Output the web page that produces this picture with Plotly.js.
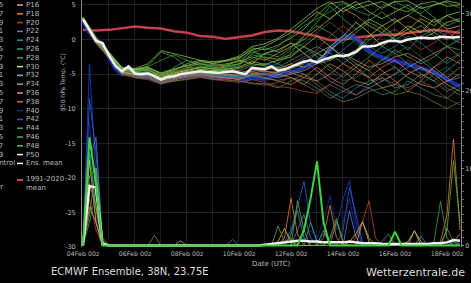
<!DOCTYPE html>
<html><head><meta charset="utf-8">
<script src="https://cdn.plot.ly/plotly-3.0.1.min.js"></script>
<style>html,body{margin:0;padding:0;background:#000;} #chart{width:471px;height:283px;}</style>
</head><body><div id="chart"></div>
<script>
// ---------- DATA ----------
// 850 hPa temperature, 6-hourly from 04Feb 00z to 18Feb 12z
const tempMean = [2.9,1.3,-0.2,-0.5,-2.3,-3.8,-4.6,-3.9,-4.9,-5.0,
 -4.9,-5.3,-5.8,-5.4,-5.3,-5.0,-4.9,-4.8,-4.6,-4.7,
 -4.8,-4.8,-4.7,-4.6,-4.8,-5.0,-4.1,-4.2,-4.3,-3.9,
 -4.5,-4.3,-3.9,-3.6,-3.2,-3.0,-3.3,-2.9,-2.6,-2.3,
 -2.4,-2.2,-1.8,-1.0,-1.0,-0.9,-0.5,-0.2,-0.2,-0.3,
 0.0,0.2,0.3,0.2,0.2,0.4,0.3,0.3,0.4];
const tempControl = [2.7,1.0,-0.1,-0.6,-2.6,-4.2,-5.0,-4.3,-5.3,-5.5,
 -5.4,-5.8,-6.3,-5.9,-5.8,-5.5,-5.4,-5.3,-5.1,-5.3,
 -5.5,-5.6,-5.4,-5.3,-5.6,-5.9,-5.5,-5.6,-5.7,-5.4,
 -5.2,-5.0,-4.7,-4.4,-4.0,-3.5,-3.2,-2.5,-1.6,-0.5,
 0.3,0.6,0.2,-0.8,-1.6,-2.2,-2.6,-2.9,-3.1,-3.3,
 -3.6,-3.9,-4.2,-4.5,-4.7,-5.2,-5.8,-6.3,-6.8];
// 1991-2020 climatology, 12-hourly
const tempClim = [1.4,1.3,1.4,1.6,1.9,1.7,1.6,1.2,1.0,0.5,
 0.4,0.1,0.4,0.6,1.1,1.3,1.2,0.9,0.5,-0.1,
 0.0,0.3,0.5,0.7,0.7,0.9,1.2,1.4,1.2,1.0];
// ensemble members (selection), 12-hourly
const m01 = [3.2,0.2,-2.0,-4.2,-4.5,-3.8,-1.8,-2.5,-4.0,-4.2,-4.5,-4.0,-3.5,-1.5,-2.8,-3.5,-2.0,0.5,2.5,4.8,3.0,1.5,2.8,4.0,2.5,3.5,4.8,3.2,2.0,2.8];
const m02 = [3.0,-0.4,-2.4,-4.8,-5.2,-5.0,-5.5,-4.8,-4.5,-4.0,-4.2,-3.8,-3.0,-3.5,-2.0,-1.5,-0.5,-2.0,-3.5,-1.0,0.5,2.5,1.0,-1.0,0.5,2.0,1.0,3.0,1.5,2.0];
const m03 = [2.8,-0.5,-2.6,-5.0,-5.3,-5.5,-6.2,-5.8,-5.5,-5.0,-5.3,-5.5,-5.8,-5.0,-5.5,-6.0,-6.5,-5.5,-4.0,-5.5,-6.5,-5.0,-3.0,-4.5,-6.0,-7.5,-6.0,-4.0,-5.5,-4.0];
const m04 = [2.9,-0.1,-2.2,-4.5,-4.8,-4.6,-5.6,-5.2,-4.8,-4.5,-4.9,-5.0,-5.2,-4.6,-4.0,-3.5,-4.5,-5.0,-6.0,-7.5,-8.5,-7.0,-6.0,-5.5,-7.0,-6.5,-5.0,-6.0,-7.5,-6.5];
const m05 = [3.1,0.0,-2.1,-4.3,-4.2,-4.0,-5.0,-4.5,-3.5,-3.0,-3.5,-3.2,-2.8,-1.2,-1.5,-0.8,0.2,1.5,3.5,5.2,5.5,4.5,5.0,5.5,4.5,4.0,5.2,5.5,4.8,5.0];
const m06 = [2.7,-0.6,-2.7,-5.1,-5.5,-5.8,-6.4,-6.0,-5.8,-5.5,-5.8,-6.0,-6.2,-5.8,-6.2,-6.8,-7.0,-7.5,-7.8,-6.5,-5.0,-3.5,-4.5,-6.0,-5.0,-3.0,-4.0,-5.5,-7.0,-8.0];
const m07 = [3.0,-0.3,-2.3,-4.7,-5.0,-5.2,-6.0,-5.5,-5.2,-5.0,-5.0,-4.8,-4.5,-4.8,-5.0,-4.5,-3.5,-2.5,-1.5,0.5,2.0,0.5,-1.0,0.5,1.5,0.0,-1.5,-0.5,1.0,0.0];
const m08 = [2.9,-0.2,-2.5,-4.9,-5.0,-4.8,-5.8,-5.4,-5.0,-4.8,-5.1,-5.2,-5.5,-5.0,-4.8,-5.2,-4.0,-3.0,-4.5,-6.0,-7.0,-8.0,-7.0,-6.0,-5.0,-4.0,-3.0,-4.5,-6.0,-5.5];
const m09 = [3.0,-0.3,-2.3,-4.4,-4.6,-4.5,-5.4,-5.0,-4.2,-3.8,-4.0,-4.3,-4.0,-3.0,-2.5,-3.0,-1.5,-0.5,1.0,2.5,1.0,-0.5,-2.0,-3.0,-2.0,-1.0,-2.5,-4.0,-3.0,-2.0];
const m10 = [3.1,0.1,-2.0,-4.2,-4.4,-4.3,-5.2,-4.6,-4.0,-3.5,-3.8,-3.5,-3.2,-2.5,-3.0,-2.0,-1.0,0.0,1.5,3.0,4.5,3.5,2.0,1.0,2.5,3.5,2.5,1.0,0.0,1.5];
const m11 = [2.8,-0.4,-2.5,-4.8,-5.1,-5.3,-6.0,-5.6,-5.3,-5.2,-5.4,-5.5,-5.7,-5.2,-5.0,-5.5,-5.0,-4.5,-3.5,-3.0,-2.0,-3.0,-4.0,-3.5,-2.5,-2.0,-3.0,-2.0,-1.0,-2.5];
const m12 = [3.0,-0.2,-2.2,-4.6,-4.7,-4.2,-5.6,-4.0,-3.0,-3.5,-4.0,-4.2,-3.8,-2.0,-1.2,-1.8,-0.5,-1.0,-2.5,-4.0,-5.5,-4.0,-2.5,-1.0,-2.0,-3.5,-5.0,-6.0,-4.5,-3.0];
const m13 = [2.9,-0.2,-2.4,-4.8,-5.0,-5.0,-5.9,-5.3,-4.9,-4.7,-4.8,-4.6,-4.9,-4.3,-4.6,-4.8,-4.2,-3.5,-2.0,-1.0,-2.5,-4.0,-5.5,-7.0,-6.5,-5.0,-4.0,-5.0,-6.5,-7.5];
const m14 = [3.2,0.3,-1.8,-4.0,-4.2,-3.5,-1.6,-2.0,-2.5,-3.0,-3.2,-3.0,-2.6,-1.5,-1.0,0.0,1.0,2.5,4.0,3.0,4.5,5.5,4.0,3.0,4.0,5.0,3.5,2.5,3.5,4.0];
const m15 = [2.8,-0.5,-2.6,-5.0,-5.4,-5.6,-6.3,-6.0,-5.6,-5.4,-5.7,-5.8,-6.0,-6.3,-6.4,-7.0,-6.0,-5.0,-6.5,-8.0,-9.0,-8.5,-7.5,-7.0,-8.0,-7.5,-8.0,-9.0,-10.0,-9.0];
const m16 = [3.0,-0.1,-2.2,-4.5,-4.7,-4.8,-5.5,-5.1,-4.7,-4.5,-4.6,-4.4,-4.5,-3.8,-3.5,-4.0,-3.0,-2.0,-1.0,-2.0,-3.5,-2.0,0.0,1.0,0.0,-1.5,0.5,1.5,0.5,-0.5];
const m17 = [3.1,0.0,-2.1,-4.4,-4.6,-4.4,-5.3,-4.9,-4.5,-4.0,-4.3,-4.5,-4.2,-3.5,-3.8,-4.2,-3.5,-4.0,-3.0,-1.5,0.0,1.5,3.0,2.0,0.5,1.5,3.0,2.0,3.5,2.5];
const m18 = [2.9,-0.3,-2.4,-4.7,-4.9,-5.1,-5.8,-5.4,-5.1,-4.9,-5.0,-5.2,-5.1,-4.6,-4.4,-4.0,-4.8,-5.5,-6.0,-5.0,-3.5,-4.5,-5.5,-4.0,-3.0,-4.5,-5.5,-4.0,-2.5,-3.5];
const m19 = [3.0,-0.1,-2.2,-4.5,-4.3,-4.0,-4.8,-4.2,-3.8,-3.5,-3.6,-3.8,-3.5,-2.8,-2.0,-2.5,-1.2,0.5,2.0,1.0,-0.5,1.0,2.5,1.5,0.0,1.0,2.0,0.5,-1.0,0.0];
const m20 = [2.8,-0.4,-2.5,-4.9,-5.2,-5.4,-6.2,-5.7,-5.4,-5.1,-5.2,-5.4,-5.6,-5.3,-5.6,-5.9,-5.5,-6.0,-7.0,-8.5,-7.5,-6.5,-7.0,-8.0,-7.5,-6.0,-7.0,-8.0,-8.5,-7.0];
const m21 = [3.3,0.4,-1.9,-4.1,-4.3,-3.9,-3.0,-2.2,-3.0,-3.8,-4.0,-3.6,-3.0,-1.8,-2.2,-1.0,0.5,2.0,3.0,4.0,5.3,4.2,3.5,4.8,5.5,4.5,3.8,5.0,5.4,4.5];
const m22 = [2.9,-0.2,-2.3,-4.6,-4.9,-4.7,-5.5,-5.0,-4.6,-4.3,-4.5,-4.3,-4.0,-3.2,-3.6,-3.0,-2.5,-1.0,0.5,-1.0,-2.5,-1.5,0.5,2.0,3.0,1.5,0.0,1.0,2.5,3.0];
const m23 = [3.0,-0.3,-2.4,-4.7,-5.0,-5.1,-5.9,-5.5,-5.1,-4.8,-4.9,-5.0,-5.3,-4.9,-4.5,-5.0,-5.5,-6.5,-5.0,-3.5,-4.5,-6.0,-6.5,-5.0,-4.0,-5.5,-6.5,-7.0,-6.0,-5.0];
const m24 = [2.8,-0.5,-2.6,-5.0,-5.2,-5.2,-6.0,-5.6,-5.2,-4.9,-5.1,-5.3,-5.4,-5.0,-5.2,-4.8,-3.8,-2.8,-2.0,-3.0,-1.5,0.0,-1.0,-2.0,-1.0,0.5,-0.5,-2.0,-3.5,-2.0];
const m25 = [3.1,0.1,-2.0,-4.3,-4.5,-4.4,-5.1,-4.7,-4.3,-4.1,-4.2,-4.0,-3.6,-2.2,-2.6,-2.8,-2.2,-1.0,-2.0,-3.0,-2.0,-3.5,-4.5,-3.0,-1.5,-2.5,-3.5,-2.5,-1.0,-1.5];
const m26 = [2.8,-0.5,-2.5,-4.9,-5.3,-5.5,-6.1,-5.7,-5.5,-5.3,-5.5,-5.7,-6.0,-6.4,-6.6,-6.2,-5.5,-6.5,-7.5,-6.5,-7.5,-8.0,-6.5,-5.5,-6.5,-7.0,-6.0,-7.0,-8.5,-9.5];
const m27 = [3.2,0.2,-1.9,-4.1,-4.3,-4.1,-4.9,-4.3,-3.8,-3.2,-3.4,-3.0,-2.4,-1.0,-0.6,0.2,1.5,3.0,4.5,5.5,4.0,5.0,5.6,4.5,5.5,5.6,4.5,5.0,5.6,5.2];
const m28 = [2.9,-0.2,-2.3,-4.6,-4.8,-4.9,-5.7,-5.2,-4.8,-4.6,-4.7,-4.9,-5.0,-4.4,-4.1,-4.5,-5.0,-4.0,-3.0,-4.5,-6.0,-5.5,-4.0,-3.0,-4.0,-5.5,-6.5,-5.0,-4.0,-5.5];

// precipitation (mm, right axis), 6-hourly
const precMean = [0,7.7,7.5,0.2,0,0,0,0,0,0, 0,0.05,0,0,0,0,0,0,0,0, 0,0,0,0,0,0,0,0,0.1,0.2,
 0.3,0.4,0.5,0.6,0.6,0.5,0.5,0.4,0.4,0.4, 0.4,0.5,0.4,0.3,0.3,0.3,0.2,0.2,0.2,0.2, 0.2,0.2,0.2,0.2,0.3,0.3,0.4,0.7,0.6];
const pB1 = [0,23.5,9.0,0,0,0,0,0,0,0, 0,0,0,0,0,0,0,0,0,0, 0,0,0,0,0,0,0,0,0,0, 0,0,0,0.5,1.0,0,0,0,0.8,2.5, 6.0,8.4,3.0,0,0,0,0,0,0,0, 0,0,0,0,0,0,0,0.3,0.5];
const pB2 = [0,19.0,12.0,0.5,0,0,0,0,0,0, 0,0,0,0,0,0,0,0,0,0, 0,0,0,0,0,0,0,0,0,0, 0,0.5,2.0,5.0,8.3,3.0,0.5,1.5,0.5,0, 2.0,7.5,4.0,0.5,0,0,0,0,0,0, 0,0,0,0,0,0,0,0,0];
const pB3 = [0,16.0,4.0,0,0,0,0,0,0,0, 0,0,0,0,0,0,0,0,0,0, 0,0,0,0,0,0,0,0,0,0, 0,0,0,0,1.0,2.0,1.0,3.0,6.5,2.0, 3.0,6.0,2.0,0,0,0,0,0,0,0, 0,0,0,0,0,0,0,0,0];
const pB4 = [0,11.0,14.0,0.5,0,0,0,0,0,0, 0,0,0,0,0,0,0,0,0,0, 0,0,0,0.8,0,0,0,0,0,0, 0,0,0,2.0,4.0,1.0,0,0,0,0, 0,4.5,1.0,0,0,0,0,0,0,0, 0,0,0,0,0,0,0,0,0];
const pTeal = [0,12.0,5.0,0,0,0,0,0,0,0, 0,0,0,0,0,0,0,0,0,0, 0,0,0,0,0,0,0,0,0,0, 0,0,1.5,4.5,1.0,0,0,2.0,0,0, 0,0,0,0,0,0,0,0,0,0, 0,0,1.2,0,0,0,0,0,0];
const pYellow = [0,11.0,3.0,0,0,0,0,0,0,0, 0,0,0,0,0,0,0,0,0,0, 0,0,0,0,0,0,0,0,0,0, 0.5,2.2,0.5,0,0,0,0,0,0,0, 0,0.5,1.5,3.1,0.5,0,0,0,0,0, 0.5,1.9,0,0,0,0,0,0,0];
const pOrange = [0,8.0,5.0,0,0,0,0,0,0,0, 0,0,0,0,0,0,0,0,0,0, 0,0,0,0,0,0,0,0,0,0, 0,1.0,6.1,1.5,0,0,0,1.0,5.2,1.0, 0,0,0,0,0,0,0,0,0,0, 0,0,0,0,0,0.5,4.0,13.8,2.0];
const pRed = [0,6.0,2.0,0,0,0,0,0,0,0, 0,0,0,0,0,0,0,0,0,0, 0,0,0,0,0,0,0,0,0,0, 0,0,0,0,0,0,0,0,0,0, 0,0,1.0,3.0,5.8,1.0,0,0,0,0, 0,0,0,0,0,0,0,0,0];
const pOlive = [0,4.0,10.0,1.0,0,0,0,0,0,0, 0,1.3,0,0,0,0,0,0,0,0, 0,0,0,0,0,0,0,0,0,0, 2.5,0.5,1.0,0,0,0,0,0,0,3.1, 0.5,0,0,0,0,0,0,0,0,0, 0,0,0,0,0,0,2.2,0.5,0];
const pTan = [0,5.0,3.0,0,0,0,0,0,0,0, 0,0,0,0,0,0.6,0,0,0,0, 0,0,0,0,0,0,0,0,0,0, 0,0,0,0,0,0,0,0,0,0, 0,0,0,3.1,1.0,0,0,0,0,0, 0,1.9,0.5,0,0,0,0,0.5,1.5];
const pGreen2 = [0,9.0,10.0,0.5,0,0,0,0,0,0, 0,0,0,0,0,0,0,0,0,0, 0,0,0,0,0,0,0,0,0,0, 0,0,0,5.8,2.0,0,0,0,1.0,3.5, 0.5,0,0,0,0,0,0,0,0,0, 0,0,0,0,0,0,2.0,11.0,3.0];
const pGreen3 = [0,3.0,7.0,0.5,0,0,0,0,0,0, 0,0,0,0,0,0,0,0,0,0, 0,0,0,0,0,0,0,0,0,0, 0,0,0,0,0,3.0,0.5,0,0,0, 0,0,0,0,0,0,0.5,1.5,0,0, 0,0,0,0,0.5,5.7,1.0,0,0.3];
const pGreen1 = [0,14.0,8.0,0,0,0,0,0,0,0, 0,0,0,0,0,0,0,0,0,0, 0,0,0,0,0,0,0,0,0,0, 0,0,0,0,2.0,6.0,10.9,3.0,0,0, 0,0,0,0,0,0,0,0,1.8,0, 0,0,0,0,0,0,0,0,0];

// legend labels / ticks
const legendLeft = ['P15','P17','P19','P21','P23','P25','P27','P29','P31','P33','P35','P37','P39','P41','P43','P45','P47','P49','Control'];
const legendRight = ['P16','P18','P20','P22','P24','P26','P28','P30','P32','P34','P36','P38','P40','P42','P44','P46','P48','P50','Ens. mean'];
const legendRightColors = ['#e0b080','#e08030','#b04030','#6080a0','#3090a0','#30a080','#40a040','#e0e060','#80b0e0','#c09090','#e090a0','#c07040','#203080','#3050c0','#40a060','#50b050','#60c060','#f0f0f0','#ffffff'];
const tempTicks = [-30,-25,-20,-15,-10,-5,0,5];
const tempTickText = ['-30','-25','-20','-15','-10','-5','0','5'];
const precTicks = [0,10,20,30];

// ---------- BUILD ----------
const pad = n => String(n).padStart(2,'0');
const t0 = Date.UTC(2025,1,4,0);
const fmt = ms => { const d = new Date(ms); return d.getUTCFullYear()+'-'+pad(d.getUTCMonth()+1)+'-'+pad(d.getUTCDate())+' '+pad(d.getUTCHours())+':00'; };
const times6 = Array.from({length: tempMean.length}, (_,i) => fmt(t0 + i*6*3600000));
const times12 = Array.from({length: tempClim.length}, (_,i) => fmt(t0 + i*12*3600000));

const members = [m01,m02,m03,m04,m05,m06,m07,m08,m09,m10,m11,m12,m13,m14,m15,m16,m17,m18,m19,m20,m21,m22,m23,m24,m25,m26,m27,m28];
const memberColors = ['#40b040','#d8d040','#e08030','#2a9090','#80c840','#a05030','#c84040','#6090d0','#2a7030','#c8a030','#d08080','#40a070','#c0a070','#90d050','#808030','#40a0a0','#a0c040','#e07050','#50b050','#3a8a70','#3c9c3c','#b8c840','#d89040','#3080a0','#58a848','#905040','#a0d060','#2a6a5a'];

const traces = [];
traces.push({x: times12, y: tempClim, type:'scatter', mode:'lines', line:{color:'#d84852', width:2.5}, opacity:0.9, hoverinfo:'skip'});
traces.push({x: times6, y: tempControl, type:'scatter', mode:'lines', line:{color:'#2434c8', width:4}, opacity:0.85, hoverinfo:'skip'});
members.forEach((m,k) => traces.push({x: times12, y: m, type:'scatter', mode:'lines', line:{color: memberColors[k], width:1}, opacity:0.72, hoverinfo:'skip'}));
traces.push({x: times6, y: tempMean, type:'scatter', mode:'lines', line:{color:'#f0f0f0', width:2.5}, hoverinfo:'skip'});

const precSeries = [[pB1,'#2040d0'],[pB2,'#3060e0'],[pB3,'#1830a0'],[pB4,'#5080e0'],[pTeal,'#30a0a0'],[pYellow,'#d0d040'],[pOrange,'#e08030'],[pRed,'#c04030'],[pOlive,'#909030'],[pTan,'#c0a070'],[pGreen2,'#60b040'],[pGreen3,'#40a060']];
precSeries.forEach(([s,c]) => traces.push({x: times6, y: s, yaxis:'y2', type:'scatter', mode:'lines', line:{color:c, width:1}, opacity:0.8, hoverinfo:'skip'}));
traces.push({x: times6, y: precMean, yaxis:'y2', type:'scatter', mode:'lines', line:{color:'#f0f0f0', width:2.5}, hoverinfo:'skip'});
traces.push({x: times6, y: pGreen1, yaxis:'y2', type:'scatter', mode:'lines', line:{color:'#40d040', width:2}, hoverinfo:'skip'});

const W=471, H=283, L=82, R=10, T=0, B=36;
const pw = W-L-R, ph = H-T-B;
const PX = px => (px-L)/pw;
const PY = py => (H-B-py)/ph;
const FAM = 'DejaVu Sans, sans-serif';
const ann = [], shapes = [];
const rowY = k => 5 + k*8.8;
legendLeft.forEach((t,k) => ann.push({xref:'paper',yref:'paper',x:PX(-12),y:PY(rowY(k)),xanchor:'left',yanchor:'middle',text:t,showarrow:false,font:{family:FAM,size:7,color:'#bbbbbb'}}));
legendRight.forEach((t,k) => {
  ann.push({xref:'paper',yref:'paper',x:PX(24),y:PY(rowY(k)),xanchor:'left',yanchor:'middle',text:t,showarrow:false,font:{family:FAM,size:7,color:'#bbbbbb'}});
  shapes.push({type:'line',xref:'paper',yref:'paper',x0:PX(17),x1:PX(23),y0:PY(rowY(k)),y1:PY(rowY(k)),line:{color:legendRightColors[k],width:1.5}});
});
ann.push({xref:'paper',yref:'paper',x:PX(24),y:PY(183.5),xanchor:'left',yanchor:'middle',text:'1991-2020<br>mean',showarrow:false,align:'left',font:{family:FAM,size:7,color:'#bbbbbb'}});
shapes.push({type:'line',xref:'paper',yref:'paper',x0:PX(17),x1:PX(23),y0:PY(180),y1:PY(180),line:{color:'#d04050',width:2}});
ann.push({xref:'paper',yref:'paper',x:PX(5),y:PY(187),xanchor:'right',yanchor:'middle',text:'er',showarrow:false,font:{family:FAM,size:7,color:'#bbbbbb'}});
ann.push({xref:'paper',yref:'paper',x:PX(63),y:PY(82),xanchor:'center',yanchor:'middle',text:'850 hPa Temp. (°C)',textangle:-90,showarrow:false,font:{family:FAM,size:6,color:'#bbbbbb'}});
ann.push({xref:'paper',yref:'paper',x:PX(271),y:PY(264),xanchor:'center',yanchor:'middle',text:'Date (UTC)',showarrow:false,font:{family:FAM,size:7,color:'#bbbbbb'}});
ann.push({xref:'paper',yref:'paper',x:PX(129.5),y:PY(271),xanchor:'center',yanchor:'middle',text:'ECMWF Ensemble, 38N, 23.75E',showarrow:false,font:{family:FAM,size:10,color:'#dddddd'}});
ann.push({xref:'paper',yref:'paper',x:PX(415),y:PY(272),xanchor:'center',yanchor:'middle',text:'Wetterzentrale.de',showarrow:false,font:{family:FAM,size:11,color:'#dddddd'}});

const layout = {
  width:W, height:H, margin:{l:L,r:R,t:T,b:B,pad:0},
  paper_bgcolor:'#000', plot_bgcolor:'#000', showlegend:false,
  font:{family:FAM, color:'#bbbbbb', size:7},
  xaxis:{type:'date', range:['2025-02-03 23:05','2025-02-18 12:56'], tick0:'2025-02-04', dtick:2*86400000,
    tickformat:'%d%b %Hz', tickfont:{size:6.3,color:'#bbbbbb'}, showgrid:true, gridcolor:'#222222', gridwidth:1,
    minor:{dtick:86400000, showgrid:true, gridcolor:'#1c1c1c'}, showline:false, zeroline:false, ticks:'', ticklabelstandoff:2},
  yaxis:{range:[-30,5.72], tickvals:tempTicks, ticktext:tempTickText, tickfont:{size:6.5,color:'#bbbbbb'},
    showgrid:true, gridcolor:'#222222', zeroline:false, showline:true, linecolor:'#8a8a8a', linewidth:1, ticks:'', ticklabelstandoff:4},
  yaxis2:{overlaying:'y', side:'right', range:[-0.2,31.8], tickvals:precTicks, tickfont:{size:6.5,color:'#bbbbbb'},
    showgrid:false, zeroline:false, showline:true, linecolor:'#8a8a8a', linewidth:1, ticks:'outside', ticklen:2, tickcolor:'#8a8a8a',
    minor:{dtick:1, ticks:'outside', ticklen:2, tickcolor:'#6a6a6a'}},
  annotations: ann, shapes: shapes
};
Plotly.newPlot('chart', traces, layout, {staticPlot:true, displayModeBar:false});
</script></body></html>
